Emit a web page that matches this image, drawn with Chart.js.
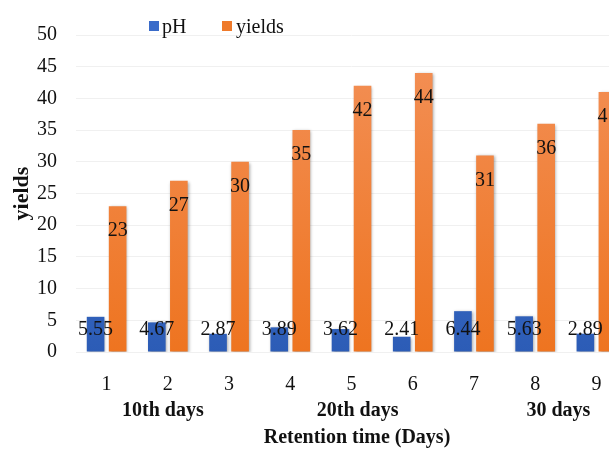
<!DOCTYPE html>
<html>
<head>
<meta charset="utf-8">
<script src="https://cdn.jsdelivr.net/npm/chart.js@4.4.0/dist/chart.umd.min.js"></script>
<style>
  body { margin: 0; background: #fff; }
  #wrap { width: 609px; height: 450px; overflow: hidden; }
</style>
</head>
<body>
<div id="wrap"><canvas id="chart" width="640" height="450"></canvas></div>
<script>
const categories = ['1', '2', '3', '4', '5', '6', '7', '8', '9'];
const phValues = [5.55, 4.67, 2.87, 3.89, 3.62, 2.41, 6.44, 5.63, 2.89];
const yieldValues = [23, 27, 30, 35, 42, 44, 31, 36, 41];
const groupLabels = ['10th days', '20th days', '30 days'];
const groupCenters = [0.92, 4.1, 7.38]; // category index positions under the axis

const serif = "'Liberation Serif', 'Times New Roman', serif";

function grad(chart, top, bottom) {
    const area = chart.chartArea;
    if (!area) return bottom;
    const g = chart.ctx.createLinearGradient(0, area.top, 0, area.bottom);
    g.addColorStop(0, top);
    g.addColorStop(1, bottom);
    return g;
}

const extras = {
    id: 'extras',
    beforeDatasetsDraw(chart) {
        const ctx = chart.ctx;
        ctx.save();
        ctx.shadowColor = 'rgba(0,0,0,0.35)';
        ctx.shadowBlur = 3;
        ctx.shadowOffsetX = 1;
        ctx.shadowOffsetY = 1;
    },
    afterDatasetsDraw(chart) {
        const ctx = chart.ctx;
        ctx.restore();
        const yScale = chart.scales.y;
        const xScale = chart.scales.x;

        ctx.save();
        ctx.fillStyle = '#111';
        ctx.font = '20px ' + serif;
        ctx.textAlign = 'center';
        ctx.textBaseline = 'middle';

        // pH labels
        chart.getDatasetMeta(0).data.forEach((bar, i) => {
            ctx.fillText(phValues[i].toFixed(2), bar.x, yScale.getPixelForValue(0) - 22);
        });
        // yields labels
        chart.getDatasetMeta(1).data.forEach((bar, i) => {
            ctx.fillText(String(yieldValues[i]), bar.x, bar.y + 25);
        });

        // group labels + axis title
        ctx.font = 'bold 20px ' + serif;
        groupLabels.forEach((g, i) => {
            ctx.fillText(g, xScale.getPixelForValue(groupCenters[i]), 411);
        });
        ctx.fillText('Retention time (Days)', 357, 438);

        // legend
        ctx.font = '20px ' + serif;
        ctx.textAlign = 'left';
        ctx.fillStyle = '#3a6bc9';
        ctx.fillRect(149, 21, 10, 10);
        ctx.fillStyle = '#ef7a2a';
        ctx.fillRect(222, 21, 10, 10);
        ctx.fillStyle = '#111';
        ctx.fillText('pH', 162, 28);
        ctx.fillText('yields', 236, 28);
        ctx.restore();
    }
};

new Chart(document.querySelector('#chart'), {
    type: 'bar',
    data: {
        labels: categories,
        datasets: [
            {
                label: 'pH',
                data: phValues,
                backgroundColor: (c) => grad(c.chart, '#4a7dd6', '#2c5cb6'),
                categoryPercentage: 0.72,
                barPercentage: 0.8
            },
            {
                label: 'yields',
                data: yieldValues,
                backgroundColor: (c) => grad(c.chart, '#f39159', '#ee7420'),
                categoryPercentage: 0.72,
                barPercentage: 0.8
            }
        ]
    },
    options: {
        responsive: false,
        animation: false,
        devicePixelRatio: 1,
        layout: { padding: { top: 35, right: 13, left: 0, bottom: 0 } },
        plugins: {
            legend: { display: false },
            tooltip: { enabled: false }
        },
        scales: {
            x: {
                grid: { display: false, drawTicks: false },
                border: { display: false },
                ticks: {
                    color: '#111',
                    font: { family: serif, size: 20 },
                    padding: 21
                },
                afterFit(scale) { scale.height = 98; }
            },
            y: {
                min: 0,
                max: 50,
                grid: { color: '#f0f0f0', drawTicks: false },
                border: { display: false },
                ticks: {
                    stepSize: 5,
                    color: '#111',
                    font: { family: serif, size: 20 },
                    padding: 19
                },
                title: {
                    display: true,
                    text: 'yields',
                    color: '#111',
                    font: { family: serif, size: 22, weight: 'bold' },
                    padding: { top: 9, bottom: 0 }
                },
                afterFit(scale) { scale.width = 76; }
            }
        }
    },
    plugins: [extras]
});
</script>
</body>
</html>
